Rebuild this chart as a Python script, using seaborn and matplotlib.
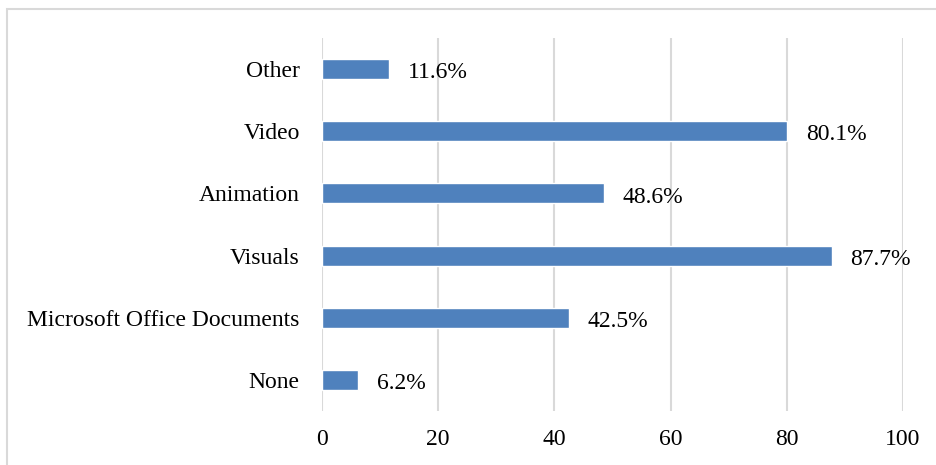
import matplotlib
matplotlib.use("Agg")
import matplotlib.pyplot as plt
import seaborn as sns
import pandas as pd
from matplotlib.patches import Rectangle

categories = ["Other", "Video", "Animation", "Visuals", "Microsoft Office Documents", "None"]
percentages = [11.6, 80.1, 48.6, 87.7, 42.5, 6.2]
x_ticks = [0, 20, 40, 60, 80, 100]

df = pd.DataFrame({"category": categories, "pct": percentages})

sns.set_theme(style="white")
plt.rcParams["font.family"] = ["Liberation Serif", "DejaVu Serif"]

FS = 17

fig = plt.figure(figsize=(9.36, 4.65), dpi=100)
ax = fig.add_axes([322 / 936, 1 - 411 / 465, (903 - 322) / 936, (411 - 38) / 465])

sns.barplot(data=df, y="category", x="pct", orient="h", color="#4F81BD",
            saturation=1, width=0.32, ax=ax, zorder=3)

ax.set_xlim(0, 100)
ax.set_ylim(len(categories) - 0.5, -0.5)
ax.set_xticks(x_ticks)
ax.set_xticklabels([str(t) for t in x_ticks])
ax.xaxis.grid(True, color="#D9D9D9", linewidth=1.5, zorder=0)
ax.yaxis.grid(False)
for s in ax.spines.values():
    s.set_visible(False)
ax.set_xlabel("")
ax.set_ylabel("")
ax.tick_params(axis="x", length=0, pad=13, labelsize=FS, colors="black")
ax.tick_params(axis="y", length=0, pad=16, labelsize=FS, colors="black")

for i, v in enumerate(percentages):
    ax.text(v + 3.2, i + 0.06, f"{v}%", va="center", ha="left",
            fontsize=FS, color="black", zorder=4)

# outer chart border
fig.patches.append(Rectangle((7 / 936, -0.05), 1.2, 1 - 9 / 465 + 0.05,
                             transform=fig.transFigure, fill=False,
                             edgecolor="#D9D9D9", linewidth=1.5))

fig.savefig("out.png", dpi=100)
